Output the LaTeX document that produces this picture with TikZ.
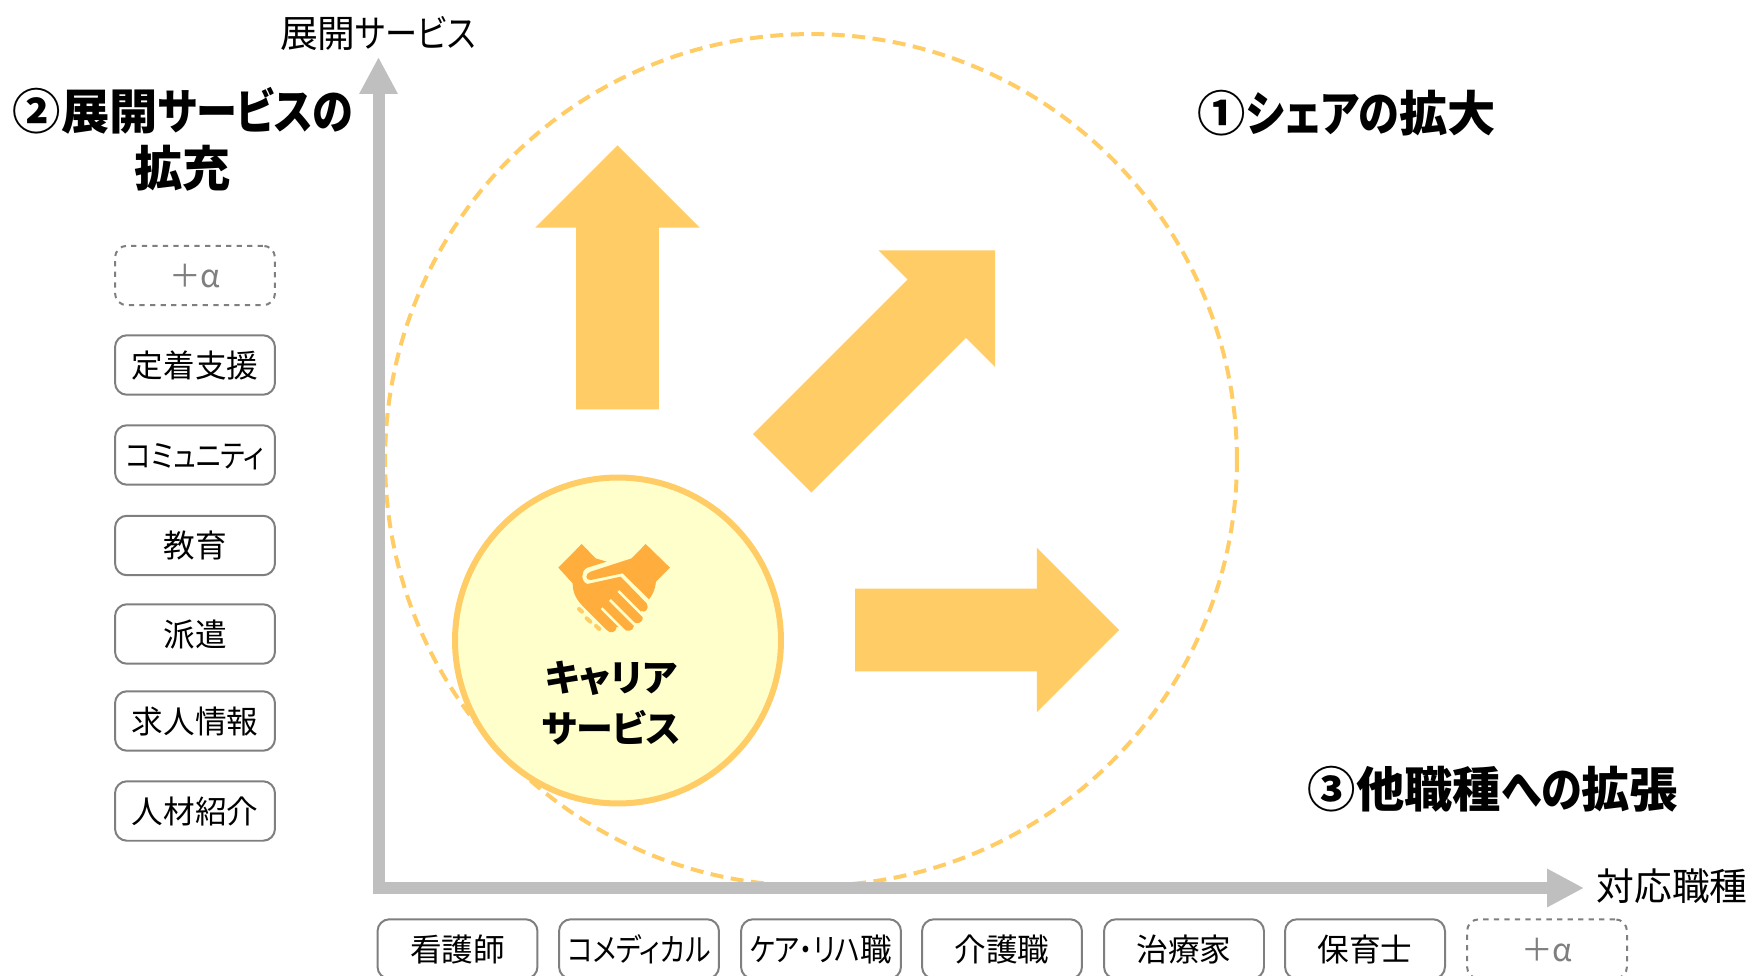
\documentclass[tikz,border=0pt]{standalone}
\usepackage{fontspec}
\setmainfont{Noto Sans CJK JP}[RawFeature=+palt]
\newfontfamily\narrowkana{Noto Sans CJK JP}[RawFeature=+palt, FakeStretch=0.85]
\usetikzlibrary{shapes,arrows.meta}
\definecolor{growthyellow}{HTML}{FFCC66}
\definecolor{careerfill}{HTML}{FFFFCC}
\definecolor{iconorange}{HTML}{FFAE3D}
\definecolor{axisgray}{HTML}{BFBFBF}
\definecolor{boxgray}{HTML}{7F7F7F}
\tikzset{
    itembox/.style={draw=boxgray, line width=0.04cm, rounded corners=0.24cm, minimum width=3.2cm, minimum height=1.19cm, inner sep=0pt, text height=0.55cm, text depth=0.05cm, font=\fontsize{18}{22}\selectfont},
    morebox/.style={itembox, dashed, text=boxgray},
    axisline/.style={draw=axisgray, line width=0.24cm, -{Triangle[length=0.74cm,width=0.72cm]}},
    bigarrow/.style={single arrow, fill=growthyellow, inner sep=0pt, minimum width=3.28cm, single arrow head extend=0.82cm, minimum height=5.28cm},
    heading/.style={font=\fontsize{27.5}{32.5}\selectfont\bfseries, align=center},
    axislabel/.style={font=\fontsize{21.5}{26}\selectfont}
}
\begin{document}
\begin{tikzpicture}[x=0.02cm,y=-0.02cm]
    \useasboundingbox (0,0) rectangle (1751,976);

    % Share circle
    \node[circle, draw=growthyellow, line width=0.08cm, dash pattern=on 0.26cm off 0.15cm, minimum size=17.04cm, inner sep=0pt] (sharecircle) at (811,460) {};

    % Growth arrows
    \node[bigarrow, rotate=90] (uparrow) at (617.5,298) {\rule{0pt}{1.64cm}};
    \node[bigarrow, rotate=45, minimum height=6.02cm] (diagarrow) at (874,371.5) {\rule{0pt}{1.64cm}};
    \node[bigarrow] (rightarrow) at (966.5,630) {\rule{0pt}{1.64cm}};

    % Career service
    \node[circle, draw=growthyellow, fill=careerfill, line width=0.12cm, minimum size=6.52cm, inner sep=0pt] (career) at (618,640.5) {};
    \node[font=\fontsize{21}{28.9}\selectfont\bfseries, align=center] (careerlabel) at (611,703) {キャリア\\サービス};

    % Handshake icon
    \begin{scope}[shift={(430,460)},x=0.00667cm,y=-0.00667cm]
        \fill[iconorange] (385,323) -- (455,252) -- (497,295) -- (530,305) -- (472,323)
            .. controls (452,332) and (452,365) .. (472,372) -- (572,350) -- (650,430)
            .. controls (660,445) and (645,462) .. (632,452) -- (638,470)
            .. controls (640,490) and (620,495) .. (608,485) -- (612,497)
            .. controls (610,515) and (590,517) .. (578,505) -- (560,500)
            .. controls (560,518) and (540,522) .. (530,510) -- (460,440)
            .. controls (440,420) and (428,400) .. (428,370) -- cycle;
        \fill[iconorange] (605,295) -- (647,252) -- (720,323) -- (678,365)
            .. controls (676,385) and (670,402) .. (657,418) -- (578,340) -- (482,360)
            .. controls (465,362) and (465,340) .. (482,335) -- cycle;
        \draw[careerfill, line width=0.05cm] (565,393) -- (640,468);
        \draw[careerfill, line width=0.05cm] (540,420) -- (614,494);
        \draw[careerfill, line width=0.05cm] (515,445) -- (582,512);
        \draw[growthyellow, line width=0.08cm, line cap=round] (447,447) -- (456,455);
        \draw[growthyellow, line width=0.08cm, line cap=round] (470,475) -- (481,485);
        \draw[growthyellow, line width=0.08cm, line cap=round] (498,498) -- (508,507);
    \end{scope}

    % Axes
    \coordinate (origin) at (378.5,888);
    \coordinate (ytip) at (378.5,57);
    \coordinate (xtip) at (1584,888);
    \draw[axisline] ([yshift=-0.12cm]origin) -- (ytip);
    \draw[axisline] ([xshift=-0.12cm]origin) -- (xtip);
    \node[axislabel] (ylabel) at (378,33) {展開{\narrowkana サービス}};
    \node[axislabel] (xlabel) at (1672,886) {対応職種};

    % Headings
    \node[heading] (sharehead) at (1347,113) {①{\narrowkana シェアの}拡大};
    \node[heading] (servicehead) at (183,139) {②展開{\narrowkana サービスの}\\拡充};
    \node[heading] (jobhead) at (1493,789) {③他職種{\narrowkana への}拡張};

    % Services
    \node[morebox] (svcmore) at (195,275.5) {＋α};
    \node[itembox] (svcteichaku) at (195,365) {定着支援};
    \node[itembox] (svccommunity) at (195,455) {\narrowkana コミュニティ};
    \node[itembox] (svcedu) at (195,545.5) {教育};
    \node[itembox] (svchaken) at (195,634) {派遣};
    \node[itembox] (svcjob) at (195,721) {求人情報};
    \node[itembox] (svcagent) at (195,811) {人材紹介};

    % Job types
    \node[itembox] (jobnurse) at (457.5,949) {看護師};
    \node[itembox] (jobcomed) at (639,949) {\narrowkana コメディカル};
    \node[itembox] (jobcare) at (821,949) {{\narrowkana ケア・リハ}職};
    \node[itembox] (jobkaigo) at (1002,949) {介護職};
    \node[itembox] (jobchiryo) at (1184,949) {治療家};
    \node[itembox] (jobhoiku) at (1365,949) {保育士};
    \node[morebox] (jobmore) at (1547,949) {＋α};
\end{tikzpicture}
\end{document}
